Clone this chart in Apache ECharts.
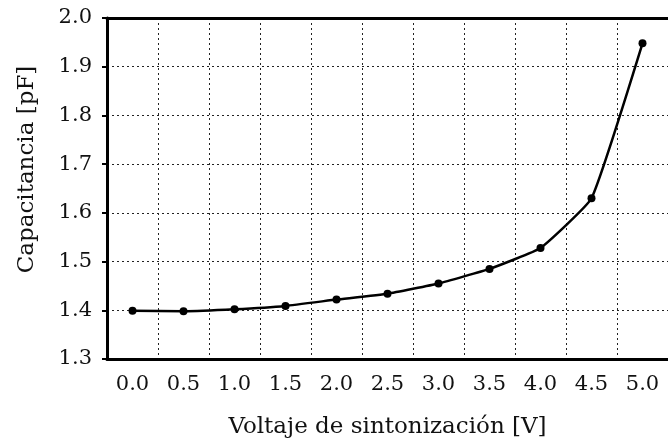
<!DOCTYPE html>
<html lang="es">
<head>
    <meta charset="UTF-8">
    <title>Capacitancia</title>
    <script src="https://cdn.jsdelivr.net/npm/echarts@6/dist/echarts.min.js"></script>
</head>
<body style="margin:0;background:#fff;">
<div id="container" style="width:668px;height:444px;"></div>
<script>
    // tension de sintonizacion (V)
    var voltaje = ['0.0', '0.5', '1.0', '1.5', '2.0', '2.5', '3.0', '3.5', '4.0', '4.5', '5.0'];
    // capacitancia (pF)
    var capacitancia = [1.399, 1.398, 1.402, 1.409, 1.422, 1.434, 1.455, 1.485, 1.528, 1.630, 1.948];

    var fuente = 'DejaVu Serif';
    var punteado = {color: '#222', type: [2, 3], width: 1};

    var myChart = echarts.init(document.getElementById('container'));

    myChart.setOption({
        backgroundColor: '#fff',
        animation: false,
        grid: {left: 107, right: -2, top: 18, bottom: 85},
        xAxis: [{
            type: 'category',
            data: voltaje,
            boundaryGap: true,
            name: 'Voltaje de sintonización [V]',
            nameLocation: 'middle',
            nameGap: 57,
            nameTextStyle: {fontFamily: fuente, fontSize: 23, color: '#111'},
            axisLine: {lineStyle: {color: '#000', width: 3}},
            axisTick: {length: 7, lineStyle: {color: '#000', width: 2}},
            axisLabel: {fontFamily: fuente, fontSize: 21, color: '#111', margin: 15},
            splitLine: {show: true, lineStyle: punteado}
        }, {
            // linea superior del marco
            type: 'category',
            position: 'top',
            data: voltaje,
            axisLine: {lineStyle: {color: '#000', width: 3}},
            axisTick: {show: false},
            axisLabel: {show: false},
            splitLine: {show: false}
        }],
        yAxis: {
            type: 'value',
            min: 1.3,
            max: 2.0,
            interval: 0.1,
            name: 'Capacitancia [pF]',
            nameLocation: 'middle',
            nameGap: 68,
            nameTextStyle: {fontFamily: fuente, fontSize: 23, color: '#111', padding: [0, 0, 0, 38]},
            axisLine: {show: true, lineStyle: {color: '#000', width: 3}},
            axisTick: {show: true, length: 5, lineStyle: {color: '#000', width: 2}},
            axisLabel: {
                fontFamily: fuente, fontSize: 21, color: '#111', margin: 15,
                formatter: function (v) { return v.toFixed(1); }
            },
            splitLine: {show: true, lineStyle: punteado}
        },
        series: [{
            type: 'line',
            data: capacitancia,
            smooth: 0.12,
            symbol: 'circle',
            symbolSize: 8,
            lineStyle: {color: '#000', width: 2.5},
            itemStyle: {color: '#000'}
        }]
    });
</script>
</body>
</html>
